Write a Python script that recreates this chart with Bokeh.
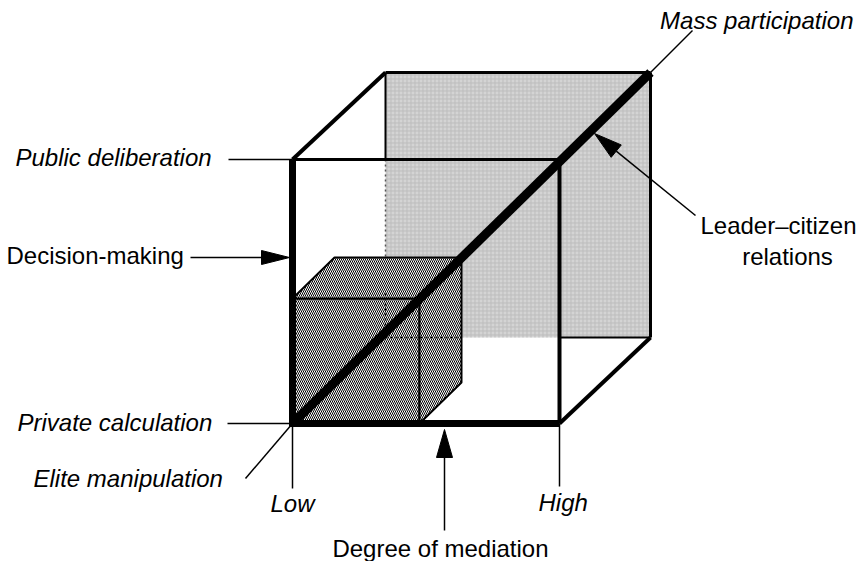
import numpy as np
from bokeh.plotting import figure
from bokeh.models import Range1d
from bokeh.core.properties import value
from bokeh.embed import file_html
from bokeh.resources import INLINE

# ---- geometry of the diagram (image pixel coordinates, y downward) ----
front_x = [292, 559]          # big cube front face left/right
front_y = [159, 423]          # big cube front face top/bottom
back_x = [385, 650]           # big cube back face left/right
back_y = [72, 337]            # big cube back face top/bottom
small_front_x = [292, 419]
small_front_y = [298, 423]
small_back_x = [334, 461]
small_back_y = [257, 382]

labels_italic = ["Mass participation", "Public deliberation", "Private calculation",
                 "Elite manipulation", "Low", "High"]
labels_italic_x = [853, 15, 17, 33, 270, 538]
labels_italic_y = [20, 157, 422, 478, 503, 502]
labels_italic_align = ["right", "left", "left", "left", "left", "left"]

labels_plain = ["Decision-making", "Degree of mediation", "Leader\u2013citizen", "relations"]
labels_plain_x = [6, 440, 778, 787]
labels_plain_y = [255, 548, 225, 256]
labels_plain_align = ["left", "center", "center", "center"]

FONT = "Liberation Sans"
FS = "24px"
FS_IT = "24px"

p = figure(width=859, height=561, x_range=Range1d(0, 859), y_range=Range1d(561, 0),
           x_axis_type=None, y_axis_type=None, toolbar_location=None,
           output_backend="svg", min_border=0)
p.grid.visible = False
p.outline_line_color = None
p.background_fill_color = "white"

fl, fr = front_x
ft, fb = front_y
bl, br = back_x
bt, bb = back_y

# back face stippled grey
p.patch([bl, br, br, bl], [bt, bt, bb, bb], fill_color="#d4d4d4", line_color=None,
        hatch_pattern="+", hatch_color="#bdbdbd", hatch_scale=4, hatch_weight=1)

# hidden edges (dotted)
p.line([bl, bl], [ft, bb], line_color="#555555", line_width=1.5, line_dash="2 3")
p.line([bl, small_back_x[1]], [bb, bb], line_color="#333333", line_width=1.5, line_dash="2 3")

# small cube faces (hatched)
sfl, sfr = small_front_x
sft, sfb = small_front_y
sbl, sbr = small_back_x
sbt, sbb = small_back_y
hatch_kw = dict(fill_color="white", hatch_pattern="\\", hatch_color="black",
                hatch_scale=4, hatch_weight=1, line_color="black", line_width=2)
p.patch([sfl, sfr, sfr, sfl], [sft, sft, sfb, sfb], **hatch_kw)
p.patch([sfl, sbl, sbr, sfr], [sft, sbt, sbt, sft], **hatch_kw)
p.patch([sfr, sbr, sbr, sfr], [sft, sbt, sbb, sfb], **hatch_kw)
# redraw the hidden dotted lines over the small cube
p.line([bl, bl], [sft - 5, bb], line_color="black", line_width=1.5, line_dash="2 3")
p.line([bl, sbr], [bb, bb], line_color="black", line_width=1.5, line_dash="2 3")

# big cube edges
p.line([bl, bl], [bt, ft], line_color="black", line_width=2)          # back left (visible part)
p.line([bl, br], [bt, bt], line_color="black", line_width=3)          # back top
p.line([br, br], [bt, bb], line_color="black", line_width=3)          # back right
p.line([fr, br], [bb, bb], line_color="black", line_width=2)          # back bottom visible part
p.line([fl, bl], [ft, bt], line_color="black", line_width=4)          # top-left connector
p.line([fr, br], [fb, bb], line_color="black", line_width=4)          # bottom-right connector
p.line([fl, fr], [ft, ft], line_color="black", line_width=3)          # front top
p.line([fr, fr], [ft, fb], line_color="black", line_width=4)          # front right
p.line([fl, fl], [ft, fb + 3], line_color="black", line_width=7)      # front left
p.line([fl - 3, fr], [fb, fb], line_color="black", line_width=7)      # front bottom
# main diagonal
p.line([fl, br], [fb, bt], line_color="black", line_width=9)

# leader lines
thin = dict(line_color="black", line_width=1.5)
p.line([692, br], [30, bt], **thin)                 # Mass participation
p.line([228, fl], [ft, ft], **thin)                 # Public deliberation
p.line([227, fl], [fb, fb], **thin)                 # Private calculation
p.line([245, fl], [478, fb], **thin)                # Elite manipulation
p.line([fl, fl], [fb, 488], **thin)                 # Low
p.line([fr, fr], [fb, 486], **thin)                 # High

# arrows (shaft + triangular head)
arrows = [  # start x, start y, tip x, tip y, head length, head width
    (190, 257, 289, 257, 28, 14),
    (444, 530, 444, 429, 28, 16),
    (695, 215, 594, 133, 28, 16),
]
for sx, sy, tx, ty, hl, hw in arrows:
    d = np.array([tx - sx, ty - sy], dtype=float)
    d /= np.hypot(*d)
    n = np.array([-d[1], d[0]])
    base = np.array([tx, ty]) - d * hl
    bx = base[0]; by = base[1]
    p.line([sx, bx], [sy, by], **thin)
    p.patch([tx, bx + n[0] * hw / 2, bx - n[0] * hw / 2],
            [ty, by + n[1] * hw / 2, by - n[1] * hw / 2],
            fill_color="black", line_color="black", line_width=1)

# labels
p.text(x=labels_italic_x, y=labels_italic_y, text=labels_italic,
       text_align=labels_italic_align, text_baseline="middle",
       text_font=value(FONT), text_font_size=FS_IT, text_font_style="italic", text_color="black")
p.text(x=labels_plain_x, y=labels_plain_y, text=labels_plain,
       text_align=labels_plain_align, text_baseline="middle",
       text_font=value(FONT), text_font_size=FS, text_color="black")

open("out.html", "w").write(file_html(p, INLINE))
